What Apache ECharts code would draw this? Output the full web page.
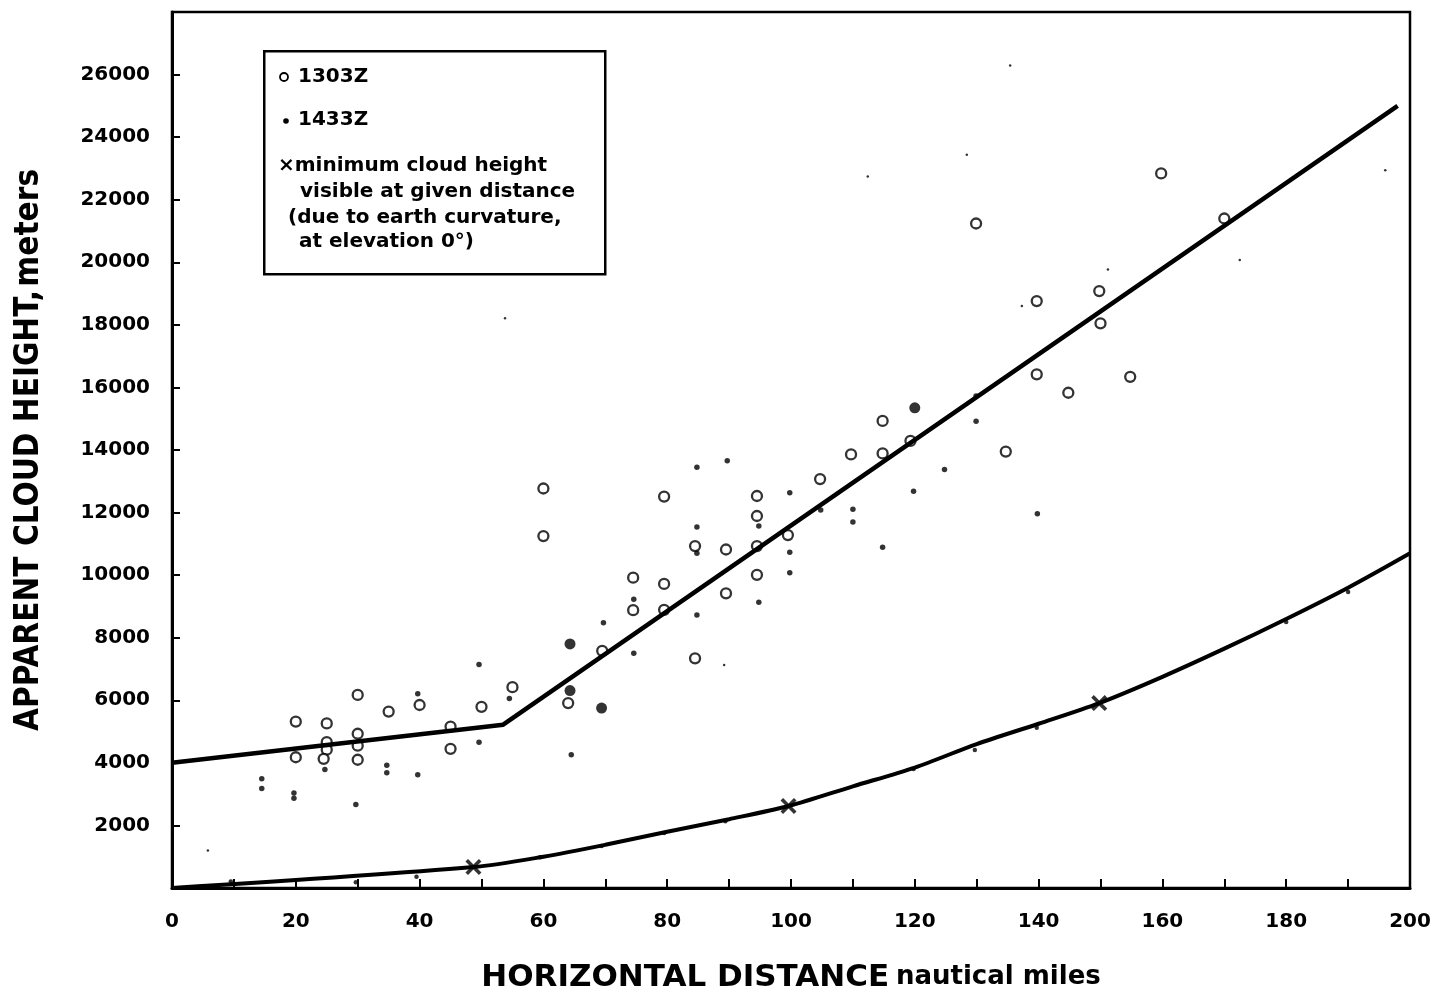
<!DOCTYPE html>
<html>
<head>
<meta charset="utf-8">
<script src="https://cdn.jsdelivr.net/npm/echarts@6/dist/echarts.min.js"></script>
<style>
html,body{margin:0;padding:0;background:#fff;}
#chart{width:1438px;height:998px;}
</style>
</head>
<body>
<div id="chart"></div>
<script>
// ---- data ----
const xTicks = [0, 20, 40, 60, 80, 100, 120, 140, 160, 180, 200];
const yTicks = [2000, 4000, 6000, 8000, 10000, 12000, 14000, 16000, 18000, 20000, 22000, 24000, 26000];

const obs1303 = [[20,5320],[20,4180],[25,5260],[25,4660],[25,4420],[24.5,4130],[30,6170],[30,4930],[30,4550],[30,4100],
  [35,5640],[40,5850],[45,5160],[45,4450],[50,5790],[55,6420],[60,12770],[60,11250],[64,5910],[69.5,7580],
  [74.5,9920],[74.5,8880],[79.5,12510],[79.5,9720],[79.5,8890],[84.5,10930],[84.5,7340],[89.5,10820],[89.5,9420],
  [94.5,12530],[94.5,11890],[94.5,10930],[94.5,10010],[99.5,11280],[104.7,13070],[109.7,13860],[114.8,14930],
  [114.8,13890],[119.3,14290],[129.9,21240],[134.7,13950],[139.7,18760],[139.7,16420],[144.8,15830],[149.8,19080],
  [150,18050],[154.8,16340],[159.8,22840],[170,21400]];

const obs1433 = [[14.5,3490],[14.5,3180],[19.7,3040],[19.7,2870],[24.7,3790],[29.7,2670],[34.7,3920],[34.7,3680],
  [39.7,6210],[39.7,3620],[49.6,7140],[49.6,4660],[54.5,6060],[64.5,4260],[69.7,8480],[74.6,9230],[74.6,7500],
  [84.8,13450],[84.8,11540],[84.8,10700],[84.8,8730],[89.7,13660],[94.8,11570],[94.8,9130],[99.8,12630],[99.8,10730],
  [99.8,10080],[104.8,12080],[110,12110],[110,11700],[114.8,10890],[119.8,12680],[124.8,13380],[129.9,15730],
  [129.9,14920],[139.8,11960]];

const bigFilled = [[64.3,7800],[64.3,6310],[69.4,5750],[120,15350]];

const curveDots = [[9.5,210],[29.7,180],[39.5,360],[59.5,980],[69.4,1340],[79.5,1760],[89.4,2130],
  [119.8,3800],[129.7,4410],[139.7,5120],[180,8500],[190,9460]];

const specks = [[5.8,1200],[53.8,18210],[89.2,7130],[112.4,22740],[128.4,23440],[135.4,26290],[137.3,18600],
  [151.2,19770],[172.5,20070],[196,22940]];

const minHeightMarks = [[48.7,670],[99.6,2620],[149.8,5910]];

const trendLine = [[0,4000],[53.5,5220],[198,25000]];

const curvatureLine = [[0,0],[48.7,670],[60,1000],[70,1380],[80,1800],[90,2200],[99.6,2620],[110,3250],
  [120,3850],[130,4600],[140,5250],[149.8,5910],[160,6750],[170,7650],[180,8600],[190,9600],[200,10700]];

// ---- chart ----
const chart = echarts.init(document.getElementById('chart'), null, {renderer:'canvas'});
const tickFont = {fontFamily:'DejaVu Sans', fontWeight:'bold', fontSize:20, color:'#000'};
const legFont = {fontFamily:'DejaVu Sans', fontWeight:'bold', fontSize:20, fill:'#000'};
const xPath = 'path://M0,1.6L1.6,0L5,3.4L8.4,0L10,1.6L6.6,5L10,8.4L8.4,10L5,6.6L1.6,10L0,8.4L3.4,5Z';
const condensed = '"DejaVu Sans Condensed", "Liberation Sans", sans-serif';

chart.setOption({
  animation:false,
  backgroundColor:'#fff',
  grid:{left:172, right:28, top:12, bottom:110, outerBoundsMode:'none', containLabel:false,
        show:true, borderColor:'#000', borderWidth:2.5, backgroundColor:'transparent'},
  xAxis:{
    type:'value', min:0, max:200, interval:10,
    name:'{a|HORIZONTAL DISTANCE}  {b|nautical miles}',
    nameLocation:'middle', nameGap:74,
    nameTextStyle:{rich:{
      a:{fontFamily:'DejaVu Sans', fontWeight:'bold', fontSize:31, color:'#000'},
      b:{fontFamily:'DejaVu Sans', fontWeight:'bold', fontSize:26, color:'#000'}
    }},
    axisLine:{show:true, lineStyle:{color:'#000', width:3}},
    axisTick:{show:true, inside:true, length:9, lineStyle:{color:'#000', width:2}},
    axisLabel:Object.assign({margin:24, formatter:v => xTicks.includes(v) ? String(v) : ''}, tickFont),
    splitLine:{show:false}
  },
  yAxis:{
    type:'value', min:0, max:28000, interval:2000,
    name:'{a|APPARENT CLOUD HEIGHT,} {b|meters}',
    nameLocation:'middle', nameGap:126, nameRotate:90,
    nameTextStyle:{rich:{
      a:{fontFamily:condensed, fontWeight:'bold', fontSize:33, color:'#000'},
      b:{fontFamily:condensed, fontWeight:'bold', fontSize:33, color:'#000'}
    }},
    axisLine:{show:true, lineStyle:{color:'#000', width:3}},
    axisTick:{show:true, inside:true, length:8, lineStyle:{color:'#000', width:2}},
    axisLabel:Object.assign({margin:22, formatter:v => yTicks.includes(v) ? String(v) : ''}, tickFont),
    splitLine:{show:false}
  },
  series:[
    {name:'1303Z', type:'scatter', data:obs1303, symbol:'circle', symbolSize:10, z:2,
     itemStyle:{color:'#fff', borderColor:'#000', borderWidth:2.3}},
    {name:'1433Z', type:'scatter', data:obs1433, symbol:'circle', symbolSize:5.5, z:3,
     itemStyle:{color:'#000'}},
    {name:'both', type:'scatter', data:bigFilled, symbol:'circle', symbolSize:11, z:3,
     itemStyle:{color:'#000'}},
    {name:'curveDots', type:'scatter', data:curveDots, symbol:'circle', symbolSize:4.5, z:3,
     itemStyle:{color:'#000'}},
    {name:'specks', type:'scatter', data:specks, symbol:'circle', symbolSize:2.5, z:3,
     itemStyle:{color:'#000'}},
    {name:'trend', type:'line', data:trendLine, showSymbol:false, z:4,
     lineStyle:{color:'#000', width:4.5}},
    {name:'curvature', type:'line', data:curvatureLine, showSymbol:false, smooth:0.3, z:4,
     lineStyle:{color:'#000', width:4}},
    {name:'minimum cloud height', type:'scatter', data:minHeightMarks, symbol:xPath, symbolSize:16, z:5,
     itemStyle:{color:'#000'}}
  ],
  graphic:[
    {type:'rect', left:263, top:50, shape:{width:341, height:223}, style:{fill:'#fff', stroke:'#000', lineWidth:2.5}, z:10},
    {type:'circle', shape:{cx:284, cy:77, r:4}, style:{fill:'#fff', stroke:'#000', lineWidth:1.8}, z:11},
    {type:'text', x:298, y:77, style:Object.assign({text:'1303Z', verticalAlign:'middle'}, legFont), z:11},
    {type:'circle', shape:{cx:286, cy:121, r:2.8}, style:{fill:'#000'}, z:11},
    {type:'text', x:298, y:120, style:Object.assign({text:'1433Z', verticalAlign:'middle'}, legFont), z:11},
    {type:'text', x:278, y:166, style:Object.assign({text:'×minimum cloud height', verticalAlign:'middle'}, legFont), z:11},
    {type:'text', x:300, y:192, style:Object.assign({text:'visible at given distance', verticalAlign:'middle'}, legFont), z:11},
    {type:'text', x:288, y:218, style:Object.assign({text:'(due to earth curvature,', verticalAlign:'middle'}, legFont), z:11},
    {type:'text', x:299, y:242, style:Object.assign({text:'at elevation 0°)', verticalAlign:'middle'}, legFont), z:11}
  ]
});
</script>
</body>
</html>
